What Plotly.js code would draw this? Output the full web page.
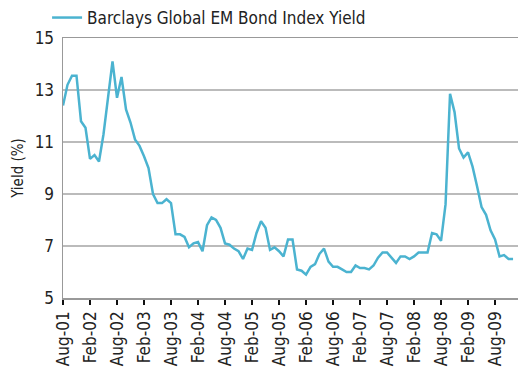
<!DOCTYPE html>
<html>
<head>
<meta charset="utf-8">
<script src="https://cdn.plot.ly/plotly-3.0.1.min.js"></script>
<style>
  html, body { margin: 0; padding: 0; background: #fff; }
  #chart { width: 519px; height: 370px; }
</style>
</head>
<body>
<div id="chart"></div>
<script>
// Monthly categories Aug-01 .. Dec-09
const months = [
  "Aug-01","Sep-01","Oct-01","Nov-01","Dec-01",
  "Jan-02","Feb-02","Mar-02","Apr-02","May-02","Jun-02","Jul-02","Aug-02","Sep-02","Oct-02","Nov-02","Dec-02",
  "Jan-03","Feb-03","Mar-03","Apr-03","May-03","Jun-03","Jul-03","Aug-03","Sep-03","Oct-03","Nov-03","Dec-03",
  "Jan-04","Feb-04","Mar-04","Apr-04","May-04","Jun-04","Jul-04","Aug-04","Sep-04","Oct-04","Nov-04","Dec-04",
  "Jan-05","Feb-05","Mar-05","Apr-05","May-05","Jun-05","Jul-05","Aug-05","Sep-05","Oct-05","Nov-05","Dec-05",
  "Jan-06","Feb-06","Mar-06","Apr-06","May-06","Jun-06","Jul-06","Aug-06","Sep-06","Oct-06","Nov-06","Dec-06",
  "Jan-07","Feb-07","Mar-07","Apr-07","May-07","Jun-07","Jul-07","Aug-07","Sep-07","Oct-07","Nov-07","Dec-07",
  "Jan-08","Feb-08","Mar-08","Apr-08","May-08","Jun-08","Jul-08","Aug-08","Sep-08","Oct-08","Nov-08","Dec-08",
  "Jan-09","Feb-09","Mar-09","Apr-09","May-09","Jun-09","Jul-09","Aug-09","Sep-09","Oct-09","Nov-09","Dec-09"
];

// Barclays Global EM Bond Index Yield (%)
const yieldPct = [
  12.4, 13.2, 13.55, 13.55, 11.8,
  11.55, 10.35, 10.5, 10.25, 11.3, 12.7, 14.1, 12.7, 13.5, 12.25, 11.75, 11.1,
  10.85, 10.45, 10.0, 9.0, 8.65, 8.65, 8.8, 8.65, 7.45, 7.45, 7.35, 6.95,
  7.1, 7.15, 6.8, 7.8, 8.1, 8.0, 7.7, 7.1, 7.05, 6.9, 6.8, 6.5,
  6.9, 6.85, 7.5, 7.95, 7.7, 6.85, 6.95, 6.8, 6.6, 7.25, 7.25, 6.1,
  6.05, 5.9, 6.2, 6.3, 6.7, 6.9, 6.4, 6.2, 6.2, 6.1, 6.0, 6.0,
  6.25, 6.15, 6.15, 6.1, 6.25, 6.55, 6.75, 6.75, 6.55, 6.35, 6.6, 6.6,
  6.5, 6.6, 6.75, 6.75, 6.75, 7.5, 7.45, 7.2, 8.6, 12.85, 12.15, 10.75,
  10.4, 10.6, 10.05, 9.3, 8.5, 8.2, 7.6, 7.25, 6.6, 6.65, 6.5, 6.5
];

const tickLabels = ["Aug-01","Feb-02","Aug-02","Feb-03","Aug-03","Feb-04","Aug-04","Feb-05",
  "Aug-05","Feb-06","Aug-06","Feb-07","Aug-07","Feb-08","Aug-08","Feb-09","Aug-09"];
const yTicks = [5, 7, 9, 11, 13, 15];

const seriesName = "Barclays Global EM Bond Index Yield";
const FONT = "'Liberation Sans Narrow', 'DejaVu Sans Condensed', 'Arial Narrow', sans-serif";

const trace = {
  x: months,
  y: yieldPct,
  type: "scatter",
  mode: "lines",
  name: seriesName,
  line: { color: "#4bb3d0", width: 2.5 },
  hoverinfo: "x+y"
};

const layout = {
  width: 519,
  height: 370,
  margin: { l: 63, r: 1, t: 37, b: 72 },
  paper_bgcolor: "#ffffff",
  plot_bgcolor: "#ffffff",
  font: { family: FONT, color: "#222222", size: 16 },
  showlegend: true,
  legend: {
    orientation: "h",
    x: -0.035, xanchor: "left",
    y: 1.005, yanchor: "bottom",
    font: { family: FONT, size: 17, color: "#222222" },
    itemwidth: 30,
    bgcolor: "rgba(0,0,0,0)"
  },
  xaxis: {
    type: "category",
    categoryorder: "array",
    categoryarray: months,
    range: [0, 101.1],
    tickmode: "array",
    tickvals: tickLabels,
    ticktext: tickLabels,
    tickangle: -90,
    ticks: "outside",
    ticklen: 5,
    tickwidth: 2,
    tickcolor: "#111111",
    tickfont: { family: FONT, size: 17, color: "#222222" },
    showgrid: false,
    showline: true,
    linecolor: "#999999",
    linewidth: 1.5,
    mirror: true,
    zeroline: false,
    fixedrange: true
  },
  yaxis: {
    range: [5, 15],
    tickmode: "array",
    tickvals: yTicks,
    ticktext: yTicks.map(String),
    ticks: "",
    ticklabelstandoff: 4,
    tickfont: { family: FONT, size: 17, color: "#222222" },
    showgrid: true,
    gridcolor: "#bbbbbb",
    gridwidth: 2,
    showline: true,
    linecolor: "#999999",
    linewidth: 1.5,
    zeroline: false,
    title: { text: "Yield (%)", font: { family: FONT, size: 15, color: "#222222" }, standoff: 7 },
    fixedrange: true
  }
};

Plotly.newPlot("chart", [trace], layout, { displayModeBar: false, staticPlot: true });
</script>
</body>
</html>
